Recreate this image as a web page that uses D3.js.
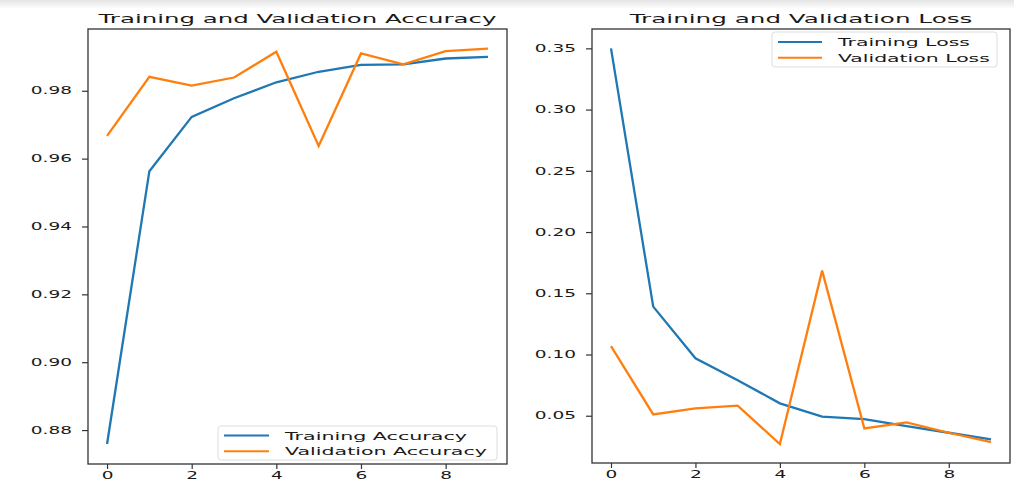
<!DOCTYPE html>
<html>
<head>
<meta charset="utf-8">
<script src="https://cdn.jsdelivr.net/npm/d3@7"></script>
<style>
  body { margin: 0; background: #fff; }
  svg { display: block; font-family: "DejaVu Sans", sans-serif; }
</style>
</head>
<body>
<div id="chart"></div>
<script>
// epochs and history values
var epochs = [0, 1, 2, 3, 4, 5, 6, 7, 8, 9];
var trainAcc = [0.8759, 0.9563, 0.9723, 0.9778, 0.9825, 0.9856, 0.9876, 0.9878, 0.9895, 0.9900];
var valAcc   = [0.9667, 0.9841, 0.9815, 0.9839, 0.9915, 0.9637, 0.9910, 0.9878, 0.9917, 0.9924];
var trainLoss = [0.3500, 0.1391, 0.0969, 0.0790, 0.0601, 0.0492, 0.0473, 0.0416, 0.0361, 0.0307];
var valLoss   = [0.1069, 0.0511, 0.0560, 0.0582, 0.0269, 0.1685, 0.0397, 0.0446, 0.0361, 0.0285];
var xTicks = [0, 2, 4, 6, 8];
var accTicks = [0.88, 0.90, 0.92, 0.94, 0.96, 0.98];
var lossTicks = [0.05, 0.10, 0.15, 0.20, 0.25, 0.30, 0.35];

var blue = "#1f77b4", orange = "#ff7f0e";
var width = 1014, height = 483;
var sx = 1.85; // the picture is stretched sideways

var svg = d3.select("#chart").append("svg").attr("width", width).attr("height", height);

// faint grey band along the top edge
var grad = svg.append("defs").append("linearGradient").attr("id", "topband")
  .attr("x1", 0).attr("y1", 0).attr("x2", 0).attr("y2", 1);
grad.append("stop").attr("offset", "0%").attr("stop-color", "#e4e4e4");
grad.append("stop").attr("offset", "100%").attr("stop-color", "#fff");
svg.append("rect").attr("x", 0).attr("y", 0).attr("width", width).attr("height", 9)
  .attr("fill", "url(#topband)");

// put a text inside a scaled group so it gets the wide look of the reference
function wideText(parent, x, y, str, size, anchor, target) {
  var g = parent.append("g").attr("transform", "translate(" + x + "," + y + ")");
  var t = g.append("text").text(str).style("font-size", size + "px").attr("fill", "#1a1a1a")
    .attr("text-anchor", anchor);
  var w = t.node().getComputedTextLength();
  var k = target ? target / w : sx;
  t.attr("transform", "scale(" + k + ",1)");
  return g;
}

function drawPanel(opt) {
  var x = d3.scaleLinear().domain([-0.45, 9.45]).range([opt.left, opt.right]);
  var y = d3.scaleLinear().domain(opt.ydomain).range([opt.bottom, opt.top]);
  var g = svg.append("g");

  // axes
  var ya = g.append("g").attr("transform", "translate(" + opt.left + ",0)")
    .call(d3.axisLeft(y).tickValues(opt.yticks).tickFormat(d3.format(".2f")).tickSize(6).tickPadding(10));
  var xa = g.append("g").attr("transform", "translate(0," + opt.bottom + ")")
    .call(d3.axisBottom(x).tickValues(xTicks).tickSize(5).tickPadding(3));
  [ya, xa].forEach(function (a) {
    a.select(".domain").remove();
    a.selectAll("line").attr("stroke", "#333").attr("stroke-width", 1.2);
    a.selectAll("text").style("font-size", "10px").attr("fill", "#1a1a1a")
      .style("font-family", "DejaVu Sans, sans-serif");
  });
  ya.selectAll("text").attr("x", -16 / sx).attr("transform", "scale(" + sx + ",1)");
  xa.selectAll("text").attr("transform", "scale(" + sx + ",1)");

  // lines
  var line = d3.line().x(function (d, i) { return x(epochs[i]); }).y(function (d) { return y(d); });
  g.append("path").datum(opt.train).attr("d", line).attr("fill", "none")
    .attr("stroke", blue).attr("stroke-width", 2.3);
  g.append("path").datum(opt.val).attr("d", line).attr("fill", "none")
    .attr("stroke", orange).attr("stroke-width", 2.3);

  // frame
  g.append("rect").attr("x", opt.left).attr("y", opt.top)
    .attr("width", opt.right - opt.left).attr("height", opt.bottom - opt.top)
    .attr("fill", "none").attr("stroke", "#333").attr("stroke-width", 1.3);

  // title
  wideText(g, (opt.left + opt.right) / 2, opt.top - 6, opt.title, 12, "middle", opt.titleW);

  // legend
  var L = opt.legend;
  g.append("rect").attr("x", L.x).attr("y", L.y).attr("width", L.w).attr("height", L.h)
    .attr("rx", 3).attr("fill", "#fff").attr("fill-opacity", 0.8)
    .attr("stroke", "#ddd").attr("stroke-width", 1);
  [[blue, L.labels[0], L.widths[0]], [orange, L.labels[1], L.widths[1]]].forEach(function (r, i) {
    var cy = L.y + L.row0 + i * 15.8;
    g.append("line").attr("x1", L.lx0).attr("x2", L.lx1).attr("y1", cy).attr("y2", cy)
      .attr("stroke", r[0]).attr("stroke-width", 2);
    wideText(g, L.tx, cy + 4, r[1], 11, "start", r[2]);
  });
}

drawPanel({
  left: 88, right: 507, top: 29, bottom: 464,
  ydomain: [0.8700, 0.9982], yticks: accTicks,
  train: trainAcc, val: valAcc,
  title: "Training and Validation Accuracy", titleW: 398,
  legend: { x: 218, y: 426, w: 279, h: 34, row0: 9.5, lx0: 224, lx1: 269, tx: 285,
            labels: ["Training Accuracy", "Validation Accuracy"], widths: [182, 202] }
});

drawPanel({
  left: 592, right: 1010, top: 29, bottom: 463,
  ydomain: [0.0114, 0.3658], yticks: lossTicks,
  train: trainLoss, val: valLoss,
  title: "Training and Validation Loss", titleW: 343,
  legend: { x: 772, y: 32, w: 225, h: 35, row0: 10, lx0: 778, lx1: 822, tx: 838,
            labels: ["Training Loss", "Validation Loss"], widths: [132, 152] }
});
</script>
</body>
</html>
